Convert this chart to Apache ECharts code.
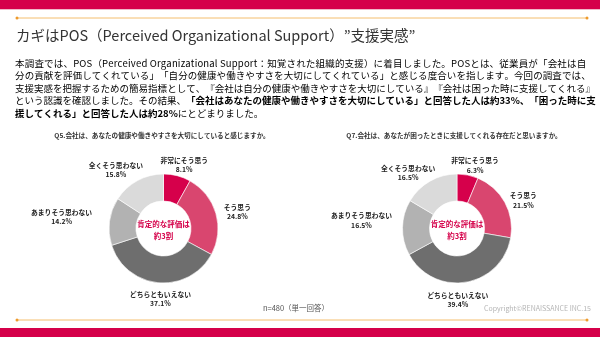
<!DOCTYPE html>
<html><head><meta charset="utf-8">
<script src="https://cdn.jsdelivr.net/npm/echarts@6/dist/echarts.min.js"></script>
<style>html,body{margin:0;padding:0;background:#fff}#c{width:600px;height:337px}</style>
</head><body><div id="c"></div>
<script>
// ---------- data ----------
const categories = ['非常にそう思う', 'そう思う', 'どちらともいえない', 'あまりそう思わない', '全くそう思わない'];
const q5Values = [8.1, 24.8, 37.1, 14.2, 15.8];
const q7Values = [6.3, 21.5, 39.4, 16.5, 16.5];
const q5Title = 'Q5.会社は、あなたの健康や働きやすさを大切にしていると感じますか。';
const q7Title = 'Q7.会社は、あなたが困ったときに支援してくれる存在だと思いますか。';
const centerLines = ['肯定的な評価は', '約3割'];
const headline = 'カギはPOS（Perceived Organizational Support）”支援実感”';
const bodyLines = [
  [['本調査では、POS（Perceived Organizational Support：知覚された組織的支援）に着目しました。POSとは、従業員が「会社は自', 0]],
  [['分の貢献を評価してくれている」「自分の健康や働きやすさを大切にしてくれている」と感じる度合いを指します。今回の調査では、', 0]],
  [['支援実感を把握するための簡易指標として、『会社は自分の健康や働きやすさを大切にしている』『会社は困った時に支援してくれる』', 0]],
  [['という認識を確認しました。その結果、', 0], ['「会社はあなたの健康や働きやすさを大切にしている」と回答した人は約33%、「困った時に支', 1]],
  [['援してくれる」と回答した人は約28%', 1], ['にとどまりました。', 0]]
];
const sampleNote = 'n=480（単一回答）';
const copyright = 'Copyright©RENAISSANCE INC.15';

// ---------- styling ----------
const FONT = '"Noto Sans CJK JP", "Noto Sans", sans-serif';
const CRIMSON = '#D5004A';
const sliceColors = ['#D6004B', '#D9466F', '#6E6E6E', '#B2B2B2', '#DADADA'];
const donutCenters = [[163.5, 228.5], [457, 228.5]];
const radii = [27.5, 54.5];
const BODY_SIZE = 9.5, BODY_X = 15, BODY_W = 570;
// label nudges [dx, dy] relative to library-computed outside label anchor
const labelNudge = [
  [[4, 1], [10, 2], [3, 4], [-36, -3], [-16, 0]],
  [[5, 2], [8, 4], [-10, 6], [-29, -7], [-16, 2]]
];

const chart = echarts.init(document.getElementById('c'), null, {renderer: 'canvas'});

function makePie(values, idx) {
  return {
    type: 'pie',
    center: donutCenters[idx],
    radius: radii,
    startAngle: 90,
    clockwise: true,
    avoidLabelOverlap: false,
    silent: true,
    animation: false,
    itemStyle: {borderColor: '#fff', borderWidth: 0.6},
    label: {
      show: true,
      position: 'outside',
      distanceToLabelLine: 0,
      formatter: '{n|{b}}\n{v|{c}%}',
      rich: {
        n: {fontFamily: FONT, fontSize: 6.8, fontWeight: 'bold', color: '#222', lineHeight: 9.5},
        v: {fontFamily: FONT, fontSize: 6.8, fontWeight: 'bold', color: '#222', lineHeight: 9.5}
      }
    },
    labelLine: {show: false, length: 12, length2: 0},
    labelLayout: function (p) {
      const t = labelNudge[p.seriesIndex][p.dataIndex];
      return {align: 'center', dx: t[0], dy: t[1]};
    },
    data: categories.map((c, i) => ({name: c, value: values[i], itemStyle: {color: sliceColors[i]}}))
  };
}

const graphics = [];
// top bar
graphics.push({type: 'rect', shape: {x: 0, y: 0, width: 600, height: 9}, style: {fill: CRIMSON}});
graphics.push({type: 'rect', shape: {x: 0, y: 9, width: 600, height: 1}, style: {fill: '#F0B9C8'}});
// orange rules
[18, 320].forEach(y => {
  graphics.push({type: 'line', shape: {x1: 17, y1: y, x2: 587, y2: y}, style: {stroke: '#F4BE6E', lineWidth: 1}});
  graphics.push({type: 'circle', shape: {cx: 17, cy: y, r: 1.5}, style: {fill: '#EE9A2C'}});
  graphics.push({type: 'circle', shape: {cx: 587, cy: y, r: 1.5}, style: {fill: '#EE9A2C'}});
});
// bottom bar
graphics.push({type: 'rect', shape: {x: 0, y: 328, width: 600, height: 9}, style: {fill: CRIMSON}});
// headline
graphics.push({type: 'text', x: 16, y: 35, style: {text: headline, font: '14.5px ' + FONT, fill: '#333', verticalAlign: 'middle'}});

// body (justified like the reference, except the last line)
const mctx = document.createElement('canvas').getContext('2d');
function measure(str, bold) {
  mctx.font = (bold ? 'bold ' : '') + BODY_SIZE + 'px ' + FONT;
  return mctx.measureText(str).width;
}
bodyLines.forEach((segs, i) => {
  const justify = i < bodyLines.length - 1;
  let natural = 0, nChars = 0;
  segs.forEach(s => { natural += measure(s[0], s[1]); nChars += Array.from(s[0]).length; });
  const extra = justify ? Math.max(0, (BODY_W - natural) / nChars) : 0;
  const rich = {};
  rich['r' + i] = {fontFamily: FONT, fontSize: BODY_SIZE, color: '#333', padding: [0, extra / 2, 0, extra / 2]};
  rich['b' + i] = {fontFamily: FONT, fontSize: BODY_SIZE, fontWeight: 'bold', color: '#222', padding: [0, extra / 2, 0, extra / 2]};
  let txt = '';
  segs.forEach(s => {
    const key = (s[1] ? 'b' : 'r') + i;
    Array.from(s[0]).forEach(ch => { txt += '{' + key + '|' + ch + '}'; });
  });
  graphics.push({type: 'text', x: BODY_X, y: 63 + i * 12.5, style: {text: txt, verticalAlign: 'middle', rich: rich}});
});
// question titles
[[q5Title, 162], [q7Title, 454]].forEach(q => {
  graphics.push({type: 'text', x: q[1], y: 135, style: {text: q[0], fontFamily: FONT, fontSize: 6.6, fontWeight: 'bold', fill: '#333', align: 'center', verticalAlign: 'middle'}});
});
// center text
donutCenters.forEach(c => {
  centerLines.forEach((t, j) => {
    graphics.push({type: 'text', x: c[0], y: c[1] - 4 + j * 11.5, style: {text: t, fontFamily: FONT, fontSize: 7.5, fontWeight: 'bold', fill: CRIMSON, align: 'center', verticalAlign: 'middle'}});
  });
});
// footer
graphics.push({type: 'text', x: 296, y: 308, style: {text: sampleNote, fontFamily: FONT, fontSize: 7.5, fill: '#555', align: 'center', verticalAlign: 'middle'}});
graphics.push({type: 'text', x: 591, y: 308, style: {text: copyright, fontFamily: FONT, fontSize: 7, fill: '#B5B5B5', align: 'right', verticalAlign: 'middle'}});

chart.setOption({
  animation: false,
  backgroundColor: '#fff',
  series: [makePie(q5Values, 0), makePie(q7Values, 1)],
  graphic: {elements: graphics}
});
</script></body></html>
